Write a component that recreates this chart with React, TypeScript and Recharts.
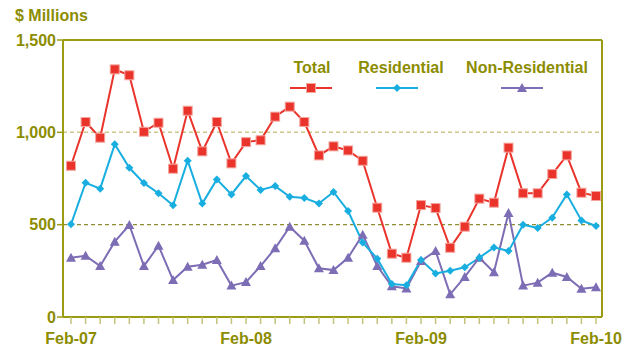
import React from 'react';
import { LineChart, Line, XAxis, YAxis, ReferenceLine } from 'recharts';

const months = [
  'Feb-07', 'Mar-07', 'Apr-07', 'May-07', 'Jun-07', 'Jul-07', 'Aug-07', 'Sep-07', 'Oct-07', 'Nov-07', 'Dec-07', 'Jan-08',
  'Feb-08', 'Mar-08', 'Apr-08', 'May-08', 'Jun-08', 'Jul-08', 'Aug-08', 'Sep-08', 'Oct-08', 'Nov-08', 'Dec-08', 'Jan-09',
  'Feb-09', 'Mar-09', 'Apr-09', 'May-09', 'Jun-09', 'Jul-09', 'Aug-09', 'Sep-09', 'Oct-09', 'Nov-09', 'Dec-09', 'Jan-10',
  'Feb-10'
];

const total = [
  819, 1056, 971, 1341, 1309, 1003, 1052, 803, 1117, 897, 1056, 832,
  947, 957, 1085, 1139, 1056, 875, 924, 902, 846, 592, 343, 321,
  606, 590, 375, 489, 641, 619, 917, 670, 670, 774, 875, 673,
  655
];

const residential = [
  502, 727, 695, 935, 808, 725, 670, 605, 846, 614, 745, 664,
  763, 688, 709, 651, 644, 615, 677, 574, 404, 316, 179, 172,
  309, 236, 251, 269, 321, 377, 357, 500, 482, 538, 664, 523,
  493
];

const nonResidential = [
  321, 332, 276, 408, 498, 276, 386, 200, 272, 283, 309, 170,
  189, 276, 372, 489, 413, 264, 254, 321, 446, 276, 166, 155,
  303, 357, 123, 217, 321, 242, 563, 170, 186, 240, 217, 153,
  161
];

const yTicks = [0, 500, 1000, 1500];

const OLIVE = '#8c8c00';
const BORDER = '#9c9c14';
const RED = '#e9332b';
const BLUE = '#18aee0';
const PURPLE = '#7d6db5';

const data = months.map((m, i) => ({
  month: m,
  total: total[i],
  residential: residential[i],
  nonResidential: nonResidential[i]
}));

const Square = ({ cx, cy }: any) => (
  <rect x={cx - 4.5} y={cy - 4.5} width={9} height={9} fill={RED} stroke="#f5a49c" strokeWidth={1} />
);

const Diamond = ({ cx, cy }: any) => (
  <path d={`M${cx},${cy - 4} L${cx + 4},${cy} L${cx},${cy + 4} L${cx - 4},${cy} Z`} fill={BLUE} />
);

const Triangle = ({ cx, cy }: any) => (
  <path d={`M${cx},${cy - 5} L${cx + 5},${cy + 4} L${cx - 5},${cy + 4} Z`} fill={PURPLE} />
);

const legend = [
  { name: 'Total', color: RED, x: 312, lx: 311, Marker: Square },
  { name: 'Residential', color: BLUE, x: 401, lx: 397, Marker: Diamond },
  { name: 'Non-Residential', color: PURPLE, x: 527, lx: 522, Marker: Triangle }
];

export default function App() {
  const font = '"Liberation Sans", Arial, sans-serif';
  return (
    <div style={{ position: 'absolute', left: 0, top: 0, width: 640, height: 351, background: '#fff', fontFamily: font }}>
      <LineChart width={640} height={351} data={data} margin={{ top: 39, right: 37, left: 0, bottom: 0 }}>
        <ReferenceLine y={1000} stroke="#c9c98a" strokeDasharray="4 3" strokeWidth={1.5} />
        <ReferenceLine y={500} stroke="#8e8e30" strokeDasharray="4 3" strokeWidth={1.2} />
        <XAxis
          dataKey="month"
          interval={0}
          padding={{ left: 8, right: 6 }}
          height={34}
          axisLine={{ stroke: BORDER, strokeWidth: 2 }}
          tickLine={{ stroke: '#c2c27a', strokeWidth: 1.5 }}
          tickSize={7}
          tickMargin={9}
          tickFormatter={(v: string) => (v.startsWith('Feb') ? v : '')}
          tick={{ fill: OLIVE, fontSize: 16, fontWeight: 'bold', fontFamily: font }}
        />
        <XAxis xAxisId="top" orientation="top" dataKey="month" height={1} tick={false} tickLine={false}
          axisLine={{ stroke: BORDER, strokeWidth: 2 }} />
        <YAxis
          domain={[0, 1500]}
          ticks={yTicks}
          width={63}
          axisLine={{ stroke: BORDER, strokeWidth: 2 }}
          tickLine={{ stroke: BORDER, strokeWidth: 1.5 }}
          tickSize={6}
          tickMargin={1}
          tickFormatter={(v: number) => v.toLocaleString('en-US')}
          tick={{ fill: OLIVE, fontSize: 16, fontWeight: 'bold', fontFamily: font }}
        />
        <YAxis yAxisId="right" orientation="right" domain={[0, 1500]} width={1} tick={false} tickLine={false}
          axisLine={{ stroke: BORDER, strokeWidth: 2 }} />
        <Line dataKey="nonResidential" stroke={PURPLE} strokeWidth={2} dot={<Triangle />} activeDot={false} isAnimationActive={false} />
        <Line dataKey="residential" stroke={BLUE} strokeWidth={2} dot={<Diamond />} activeDot={false} isAnimationActive={false} />
        <Line dataKey="total" stroke={RED} strokeWidth={2} dot={<Square />} activeDot={false} isAnimationActive={false} />
      </LineChart>
      <svg width={640} height={351} style={{ position: 'absolute', left: 0, top: 0, pointerEvents: 'none' }}>
        <text x={15} y={21} fill={OLIVE} fontSize={16} fontWeight="bold" fontFamily={font}>$ Millions</text>
        {legend.map(({ name, color, x, lx, Marker }) => (
          <g key={name}>
            <text x={x} y={73} textAnchor="middle" fill={OLIVE} fontSize={16} fontWeight="bold" fontFamily={font}>{name}</text>
            <line x1={lx - 21} x2={lx + 21} y1={88} y2={88} stroke={color} strokeWidth={2} />
            <Marker cx={lx} cy={88} />
          </g>
        ))}
      </svg>
    </div>
  );
}
